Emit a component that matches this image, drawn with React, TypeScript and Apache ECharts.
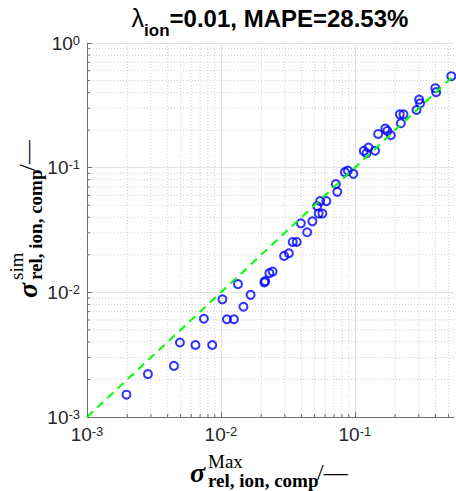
import React, { useEffect, useRef } from "react";
import * as echarts from "echarts";

// ---- data ----
const X_VALUES = [0.00197, 0.00285, 0.00446, 0.00494, 0.00645, 0.00861, 0.00746, 0.01026, 0.01109, 0.0125, 0.0134, 0.01473, 0.01666, 0.02141, 0.0211, 0.02301, 0.02432, 0.02965, 0.03217, 0.03436, 0.0368, 0.03953, 0.04406, 0.0482, 0.0537, 0.05722, 0.05234, 0.05508, 0.06124, 0.07211, 0.07396, 0.08422, 0.08869, 0.09745, 0.1167, 0.1222, 0.1264, 0.1415, 0.1493, 0.1689, 0.1748, 0.1856, 0.2167, 0.2309, 0.2204, 0.2886, 0.302, 0.3071, 0.3988, 0.4044, 0.5248];
const Y_VALUES = [0.00151, 0.00221, 0.00257, 0.00396, 0.00378, 0.00378, 0.00614, 0.00879, 0.00608, 0.00608, 0.01163, 0.00766, 0.00955, 0.01229, 0.01202, 0.01425, 0.01467, 0.01959, 0.02059, 0.02535, 0.02535, 0.03578, 0.03032, 0.03713, 0.04285, 0.04285, 0.0492, 0.05395, 0.05395, 0.07379, 0.06402, 0.09204, 0.09462, 0.0892, 0.1363, 0.1306, 0.1451, 0.1368, 0.1864, 0.2059, 0.197, 0.182, 0.2679, 0.2679, 0.227, 0.29, 0.3512, 0.3281, 0.4341, 0.4033, 0.5417];
const IDENTITY_LINE = [0.001, 0.55];
const X_MIN = 0.001;
const X_MAX = 0.55;
const Y_MIN = 0.001;
const Y_MAX = 1;
const DECADES = [0.001, 0.01, 0.1];
const MINOR_MULT = [2, 3, 4, 5, 6, 7, 8, 9];
const TITLE_SYMBOL = "λ";
const TITLE_SUB = "ion";
const TITLE_MAIN = "=0.01, MAPE=28.53%";

const SANS = '"Liberation Sans", Arial, sans-serif';
const SERIF = '"Liberation Serif", "Times New Roman", serif';

function powLabel(value: number) {
  const l = Math.log10(value);
  const e = Math.round(l);
  if (Math.abs(l - e) > 1e-6) return "";
  return `{base|10}{sup|${e}}`;
}
const labelRich = {
  base: { fontSize: 19, fontFamily: SANS, color: "#262626", lineHeight: 19, padding: [9, 0, 0, 0], verticalAlign: "bottom" },
  sup: { fontSize: 13, fontFamily: SANS, color: "#262626", lineHeight: 13, verticalAlign: "top" },
};

function measure(text: string, font: string) {
  const c = document.createElement("canvas").getContext("2d");
  if (!c) return text.length * 10;
  c.font = font;
  return c.measureText(text).width;
}

function axisLabelGroup(x: number, y: number, rotation: number, sup: string) {
  return {
    type: "group",
    x,
    y,
    rotation,
    children: [
      { type: "text", x: 0, y: 0, style: { text: "σ", font: `bold italic 28px ${SERIF}`, fill: "#000", textVerticalAlign: "middle", verticalAlign: "middle" } },
      { type: "text", x: 18, y: -11, style: { text: sup, font: `19px ${SERIF}`, fill: "#000", textVerticalAlign: "middle", verticalAlign: "middle" } },
      { type: "text", x: 18, y: 8, style: { text: "rel, ion, comp", font: `bold 19px ${SERIF}`, fill: "#000", textVerticalAlign: "middle", verticalAlign: "middle" } },
      { type: "text", x: 127, y: 0, style: { text: "/—", font: `24px ${SERIF}`, fill: "#000", textVerticalAlign: "middle", verticalAlign: "middle" } },
    ],
  };
}

export default function App() {
  const ref = useRef<HTMLDivElement>(null);
  useEffect(() => {
    if (!ref.current) return;
    const chart = echarts.init(ref.current, null, { renderer: "svg" });
    const minorX = DECADES.flatMap((d) => MINOR_MULT.map((m) => m * d)).filter((v) => v < X_MAX);
    const minorY = DECADES.flatMap((d) => MINOR_MULT.map((m) => m * d)).filter((v) => v < Y_MAX);
    const points = X_VALUES.map((x, i) => [x, Y_VALUES[i]]);

    const axisColor = "#6e6e6e";
    const gridColor = "#e2e2e2";
    const minorColor = "#cfcfcf";

    const fSym = `25px ${SANS}`;
    const fSub = `bold 17px ${SANS}`;
    const fMain = `bold 24px ${SANS}`;
    const wSym = measure(TITLE_SYMBOL, fSym);
    const wSub = measure(TITLE_SUB, fSub);
    const wMain = measure(TITLE_MAIN, fMain);
    const x0 = 270 - (wSym + wSub + wMain) / 2;

    const option: any = {
      animation: false,
      grid: { left: 87, right: 2, top: 43, bottom: 74 },
      xAxis: {
        type: "log",
        logBase: 10,
        min: X_MIN,
        max: X_MAX,
        axisLine: { show: true, onZero: false, lineStyle: { color: axisColor, width: 1 } },
        axisTick: { show: true, inside: true, length: 5, lineStyle: { color: axisColor } },
        axisLabel: { formatter: powLabel, rich: labelRich, fontSize: 19, fontFamily: SANS, color: "#262626", margin: 8, showMaxLabel: false },
        splitLine: { show: true, showMaxLine: false, lineStyle: { color: gridColor, width: 1 } },
      },
      yAxis: {
        type: "log",
        logBase: 10,
        min: Y_MIN,
        max: Y_MAX,
        axisLine: { show: true, onZero: false, lineStyle: { color: axisColor, width: 1 } },
        axisTick: { show: true, inside: true, length: 5, lineStyle: { color: axisColor } },
        axisLabel: { formatter: powLabel, rich: labelRich, fontSize: 19, fontFamily: SANS, color: "#262626", margin: 7 },
        splitLine: { show: true, lineStyle: { color: gridColor, width: 1 } },
      },
      series: [
        {
          type: "custom",
          silent: true,
          z: 1,
          data: minorX.map((v) => [v, Y_MIN]),
          renderItem: (params: any, api: any) => {
            const v = api.value(0);
            const top = api.coord([v, Y_MAX]);
            const bot = api.coord([v, Y_MIN]);
            return {
              type: "group",
              children: [
                { type: "line", shape: { x1: top[0], y1: top[1], x2: bot[0], y2: bot[1] }, style: { stroke: minorColor, lineWidth: 1, lineDash: [1, 2] } },
                { type: "line", shape: { x1: bot[0], y1: bot[1], x2: bot[0], y2: bot[1] - 3 }, style: { stroke: axisColor, lineWidth: 1 } },
              ],
            };
          },
        },
        {
          type: "custom",
          silent: true,
          z: 1,
          data: minorY.map((v) => [X_MIN, v]),
          renderItem: (params: any, api: any) => {
            const v = api.value(1);
            const l = api.coord([X_MIN, v]);
            const r = api.coord([X_MAX, v]);
            return {
              type: "group",
              children: [
                { type: "line", shape: { x1: l[0], y1: l[1], x2: r[0], y2: r[1] }, style: { stroke: minorColor, lineWidth: 1, lineDash: [1, 2] } },
                { type: "line", shape: { x1: l[0], y1: l[1], x2: l[0] + 3, y2: l[1] }, style: { stroke: axisColor, lineWidth: 1 } },
              ],
            };
          },
        },
        {
          type: "scatter",
          z: 3,
          data: points,
          symbol: "circle",
          symbolSize: 8,
          itemStyle: { color: "rgba(0,0,0,0)", borderColor: "#0000ff", borderWidth: 2 },
        },
        {
          type: "line",
          z: 4,
          data: IDENTITY_LINE.map((v) => [v, v]),
          symbol: "none",
          lineStyle: { color: "#00ff00", width: 2, type: [8, 6] },
        },
      ],
      graphic: [
        { type: "text", x: x0, y: 18, style: { text: TITLE_SYMBOL, font: fSym, fill: "#000", textVerticalAlign: "middle", verticalAlign: "middle" } },
        { type: "text", x: x0 + wSym, y: 30, style: { text: TITLE_SUB, font: fSub, fill: "#000", textVerticalAlign: "middle", verticalAlign: "middle" } },
        { type: "text", x: x0 + wSym + wSub, y: 18, style: { text: TITLE_MAIN, font: fMain, fill: "#000", textVerticalAlign: "middle", verticalAlign: "middle" } },
        axisLabelGroup(190, 472, 0, "Max"),
        axisLabelGroup(27, 298, Math.PI / 2, "sim"),
      ],
    };
    chart.setOption(option);
    return () => chart.dispose();
  }, []);
  return <div ref={ref} style={{ position: "fixed", left: 0, top: 0, width: 456, height: 491, background: "#fff" }} />;
}
